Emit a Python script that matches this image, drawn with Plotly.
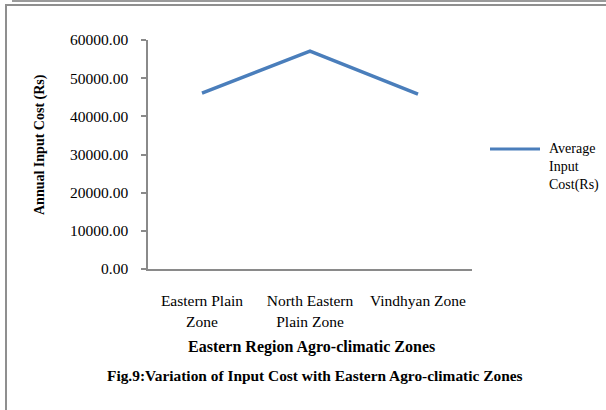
import plotly.graph_objects as go

# Agro-climatic zones of the eastern region and their average annual input cost (Rs)
zones = ["Eastern Plain Zone", "North Eastern Plain Zone", "Vindhyan Zone"]
zone_labels = ["Eastern Plain<br>Zone", "North Eastern<br>Plain Zone", "Vindhyan Zone"]
avg_input_cost = [46100, 57100, 45800]
series_name = "Average Input Cost(Rs)"

W, H = 606, 410
L, R, T, B = 148, 134, 40, 141
PW, PH = W - L - R, H - T - B

SERIF = "Liberation Serif, Times New Roman, serif"
AXIS_GREY = "#8a8a8a"
LINE_BLUE = "#4A7EBB"
TICK_SIZE = 15.5


def px(x):
    return (x - L) / PW


def py(y):
    return (H - B - y) / PH


fig = go.Figure()
fig.add_trace(go.Scatter(
    x=zones, y=avg_input_cost, mode="lines", name=series_name,
    line=dict(color=LINE_BLUE, width=3.5), showlegend=False,
))

shapes = [
    # outer frame edges
    dict(type="line", xref="paper", yref="paper", x0=px(13), x1=px(606), y0=py(1), y1=py(1),
         line=dict(color="#9a9a9a", width=2)),
    dict(type="line", xref="paper", yref="paper", x0=px(13), x1=px(13), y0=py(0), y1=py(2),
         line=dict(color="#9a9a9a", width=2)),
    dict(type="line", xref="paper", yref="paper", x0=px(5), x1=px(606), y0=py(5), y1=py(5),
         line=dict(color="#8f8f8f", width=2)),
    dict(type="line", xref="paper", yref="paper", x0=px(6), x1=px(6), y0=py(5), y1=py(410),
         line=dict(color="#8f8f8f", width=2)),
    # legend key
    dict(type="line", xref="paper", yref="paper", x0=px(490), x1=px(540), y0=py(149), y1=py(149),
         line=dict(color=LINE_BLUE, width=3)),
]

annotations = [
    dict(text="<b>Annual Input Cost (Rs)</b>", xref="paper", yref="paper", x=px(40), y=py(145),
         xanchor="center", yanchor="middle", textangle=-90, showarrow=False,
         font=dict(family=SERIF, size=14, color="black")),
    dict(text="<b>Eastern Region Agro-climatic Zones</b>", xref="paper", yref="paper",
         x=px(311), y=py(347), xanchor="center", yanchor="middle", showarrow=False,
         font=dict(family=SERIF, size=16, color="black")),
    dict(text="<b>Fig.9:Variation of Input Cost with Eastern Agro-climatic Zones</b>", xref="paper",
         yref="paper", x=px(315), y=py(376), xanchor="center", yanchor="middle", showarrow=False,
         font=dict(family=SERIF, size=15.4, color="black")),
    dict(text="Average<br>Input<br>Cost(Rs)", xref="paper", yref="paper", x=px(547), y=py(167),
         xanchor="left", yanchor="middle", align="left", showarrow=False,
         font=dict(family=SERIF, size=14, color="black")),
]

fig.update_layout(
    width=W, height=H,
    margin=dict(l=L, r=R, t=T, b=B, autoexpand=False),
    paper_bgcolor="white", plot_bgcolor="white",
    font=dict(family=SERIF, size=TICK_SIZE, color="black"),
    showlegend=False,
    shapes=shapes, annotations=annotations,
    xaxis=dict(
        type="category", range=[-0.5, 2.5], tickmode="array", tickvals=zones, ticktext=zone_labels,
        showline=True, linecolor=AXIS_GREY, linewidth=1.5, ticks="", showgrid=False,
        zeroline=False, ticklabelstandoff=17, tickfont=dict(family=SERIF, size=TICK_SIZE),
    ),
    yaxis=dict(
        range=[0, 60000], dtick=10000, tickformat=".2f", showline=True, linecolor=AXIS_GREY,
        linewidth=1.5, ticks="outside", ticklen=5, tickcolor=AXIS_GREY, tickwidth=1.5,
        showgrid=False, zeroline=False, ticklabelstandoff=10,
        tickfont=dict(family=SERIF, size=TICK_SIZE),
    ),
)

fig.write_html("out.html")
